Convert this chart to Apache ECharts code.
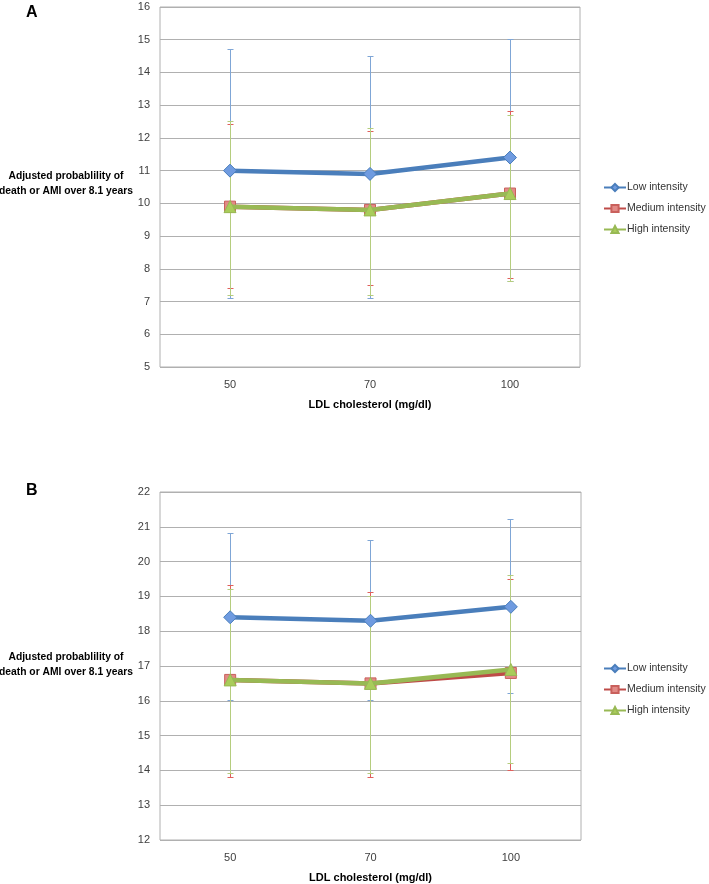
<!DOCTYPE html>
<html>
<head>
<meta charset="utf-8">
<script src="https://cdn.jsdelivr.net/npm/echarts@6/dist/echarts.min.js"></script>
<style>html,body{margin:0;padding:0;background:#fff}#c{width:709px;height:884px}</style>
</head>
<body>
<div id="c"></div>
<script>
const categories = ['50', '70', '100'];
const seriesNames = ['Low intensity', 'Medium intensity', 'High intensity'];

// Panel A
const aLow = [11.0, 10.9, 11.4];
const aMed = [9.9, 9.8, 10.3];
const aHigh = [9.9, 9.8, 10.3];
const aLowHi = [14.7, 14.5, 15.0];
const aLowLo = [7.1, 7.1, 7.6];
const aMedHi = [12.4, 12.2, 12.8];
const aMedLo = [7.4, 7.5, 7.7];
const aHighHi = [12.5, 12.3, 12.7];
const aHighLo = [7.2, 7.2, 7.6];

// Panel B
const bLow = [18.4, 18.3, 18.7];
const bMed = [16.6, 16.5, 16.8];
const bHigh = [16.6, 16.5, 16.9];
const bLowHi = [20.8, 20.6, 21.2];
const bLowLo = [16.0, 16.0, 16.2];
const bMedHi = [19.3, 19.1, 19.5];
const bMedLo = [13.8, 13.8, 14.0];
const bHighHi = [19.2, 19.0, 19.6];
const bHighLo = [13.9, 13.9, 14.2];

const yAxisTitle = 'Adjusted probablility of\ndeath or AMI over 8.1 years';
const xAxisTitle = 'LDL cholesterol (mg/dl)';

const lineColors = ['#4a7ebb', '#be4b48', '#98b954'];
const barColors = ['#7fa6d6', '#e0605c', '#b5cd7e'];
const symbolFill = ['#6f9be0', '#e28a86', '#a9cc5a'];
const symbols = ['diamond', 'rect', 'triangle'];
const FONT = 'Liberation Sans';

function crisp(v) { return Math.round(v - 0.5) + 0.5; }

function errSeries(name, idx, lo, hi, color) {
  return {
    type: 'custom', name: name + ' err', xAxisIndex: idx, yAxisIndex: idx, z: 2,
    silent: true,
    data: lo.map((v, i) => [i, v, hi[i]]),
    renderItem: function (params, api) {
      const p1 = api.coord([api.value(0), api.value(1)]);
      const p2 = api.coord([api.value(0), api.value(2)]);
      const x = crisp(p1[0]);
      const y1 = crisp(p1[1]);
      const y2 = crisp(p2[1]);
      const w = 3;
      const st = { stroke: color, lineWidth: 1 };
      return {
        type: 'group',
        children: [
          { type: 'line', shape: { x1: x, y1: y1, x2: x, y2: y2 }, style: st },
          { type: 'line', shape: { x1: x - w, y1: y1, x2: x + w, y2: y1 }, style: st },
          { type: 'line', shape: { x1: x - w, y1: y2, x2: x + w, y2: y2 }, style: st }
        ]
      };
    }
  };
}

function lineSeries(name, k, idx, data) {
  return {
    type: 'line', name: name, xAxisIndex: idx, yAxisIndex: idx, z: 5 + k,
    data: data,
    symbol: symbols[k],
    symbolSize: k === 0 ? 13 : (k === 1 ? 11 : 12),
    lineStyle: { color: lineColors[k], width: 4.5 },
    itemStyle: { color: symbolFill[k], borderColor: k === 1 ? '#c9605c' : lineColors[k], borderWidth: 1 },
    emphasis: { disabled: true },
    animation: false
  };
}

const axisLabelStyle = { color: '#404040', fontSize: 11, fontFamily: FONT };

function xAx(idx) {
  return {
    type: 'category', gridIndex: idx, data: categories,
    axisLine: { show: false }, axisTick: { show: false },
    axisLabel: Object.assign({ margin: 12 }, axisLabelStyle),
    name: xAxisTitle, nameLocation: 'middle', nameGap: 32,
    nameTextStyle: { color: '#000', fontWeight: 'bold', fontSize: 11, fontFamily: FONT }
  };
}
function yAx(idx, min, max) {
  return {
    type: 'value', gridIndex: idx, min: min, max: max, interval: 1,
    axisLine: { show: false }, axisTick: { show: false },
    axisLabel: Object.assign({ margin: 10 }, axisLabelStyle),
    splitLine: { lineStyle: { color: '#b0b0b0', width: 1 } }
  };
}

const legendBase = {
  data: seriesNames, orient: 'vertical', left: 598, itemGap: 10, itemWidth: 22, itemHeight: 9,
  textStyle: { color: '#333', fontSize: 10.5, fontFamily: FONT, padding: [0, 0, 0, -4] }, selectedMode: false
};

const chart = echarts.init(document.getElementById('c'), null, { renderer: 'canvas' });
chart.setOption({
  backgroundColor: '#fff',
  animation: false,
  grid: [
    { left: 160, top: 7, width: 420, height: 360, show: true, borderColor: '#b0b0b0', borderWidth: 1 },
    { left: 160, top: 492, width: 421, height: 352, show: true, borderColor: '#b0b0b0', borderWidth: 1 }
  ],
  xAxis: [xAx(0), xAx(1)],
  yAxis: [yAx(0, 5, 16), yAx(1, 12, 22)],
  legend: [
    Object.assign({}, legendBase, { top: 177 }),
    Object.assign({}, legendBase, { top: 658 })
  ],
  graphic: [
    { type: 'text', left: 26, top: 5, style: { text: 'A', font: 'bold 16px ' + FONT, fill: '#000' } },
    { type: 'text', left: 26, top: 483, style: { text: 'B', font: 'bold 16px ' + FONT, fill: '#000' } },
    { type: 'text', x: 66, y: 184, style: { text: yAxisTitle, font: 'bold 10.3px ' + FONT, fill: '#000', align: 'center', verticalAlign: 'middle', lineHeight: 15 } },
    { type: 'text', x: 66, y: 665, style: { text: yAxisTitle, font: 'bold 10.3px ' + FONT, fill: '#000', align: 'center', verticalAlign: 'middle', lineHeight: 15 } }
  ],
  series: [
    errSeries('Low', 0, aLowLo, aLowHi, barColors[0]),
    errSeries('Medium', 0, aMedLo, aMedHi, barColors[1]),
    errSeries('High', 0, aHighLo, aHighHi, barColors[2]),
    lineSeries(seriesNames[0], 0, 0, aLow),
    lineSeries(seriesNames[1], 1, 0, aMed),
    lineSeries(seriesNames[2], 2, 0, aHigh),
    errSeries('Low', 1, bLowLo, bLowHi, barColors[0]),
    errSeries('Medium', 1, bMedLo, bMedHi, barColors[1]),
    errSeries('High', 1, bHighLo, bHighHi, barColors[2]),
    lineSeries(seriesNames[0], 0, 1, bLow),
    lineSeries(seriesNames[1], 1, 1, bMed),
    lineSeries(seriesNames[2], 2, 1, bHigh)
  ]
});
</script>
</body>
</html>
